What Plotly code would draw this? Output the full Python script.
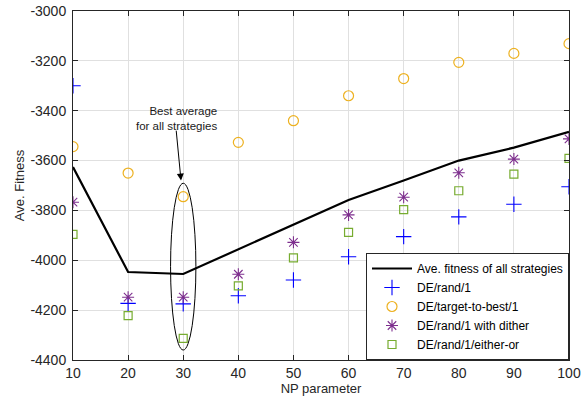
import plotly.graph_objects as go

np_param = [10, 20, 30, 40, 50, 60, 70, 80, 90, 100]
avg_all = [-3626, -4047, -4055, -3955, -3858, -3758, -3680, -3600, -3548, -3485]
de_rand1 = [-3300, -4173, -4175, -4142, -4079, -3986, -3905, -3826, -3775, -3705]
de_ttb1 = [-3544, -3650, -3745, -3527, -3440, -3340, -3271, -3206, -3170, -3131]
de_dither = [-3767, -4148, -4148, -4056, -3928, -3818, -3747, -3649, -3594, -3513]
de_either = [-3896, -4222, -4313, -4103, -3990, -3888, -3797, -3721, -3654, -3591]

y_tickvals = [-4400, -4200, -4000, -3800, -3600, -3400, -3200, -3000]
y_ticklabels = ["-4400", "-4200", "-4000", "-3800", "-3600", "-3400", "-3200", "-3000"]

FONT = "Liberation Sans, Arial, sans-serif"
fig = go.Figure()
fig.add_trace(go.Scatter(x=np_param, y=avg_all, mode="lines",
                         line=dict(color="black", width=2.2),
                         name="Ave. fitness of all strategies"))
fig.add_trace(go.Scatter(x=np_param, y=de_rand1, mode="markers",
                         marker=dict(symbol="cross-thin-open", size=11, color="#0000ff",
                                     line=dict(color="#0000ff", width=1.1)),
                         name="DE/rand/1"))
fig.add_trace(go.Scatter(x=np_param, y=de_ttb1, mode="markers",
                         marker=dict(symbol="circle-open", size=10, color="#EDB120",
                                     line=dict(color="#EDB120", width=1.2)),
                         name="DE/target-to-best/1"))
fig.add_trace(go.Scatter(x=np_param, y=de_dither, mode="markers",
                         marker=dict(symbol="asterisk-open", size=10, color="#7E2F8E",
                                     line=dict(color="#7E2F8E", width=1.1)),
                         name="DE/rand/1 with dither"))
fig.add_trace(go.Scatter(x=np_param, y=de_either, mode="markers",
                         marker=dict(symbol="square-open", size=8, color="#77AC30",
                                     line=dict(color="#77AC30", width=1.2)),
                         name="DE/rand/1/either-or"))

# ellipse around NP=30
fig.add_shape(type="circle", xref="x", yref="y", x0=27.7, x1=32.3, y0=-4360, y1=-3691,
              line=dict(color="black", width=1))
# arrow
fig.add_annotation(x=29.6, y=-3680, ax=28.7, ay=-3474, xref="x", yref="y", axref="x", ayref="y",
                   text="", showarrow=True, arrowhead=2, arrowsize=1.4, arrowwidth=1,
                   arrowcolor="black", standoff=0)
fig.add_annotation(x=36.45, y=-3430, xref="x", yref="y", text="Best average<br>for all strategies",
                   showarrow=False, xanchor="right", yanchor="middle", align="right",
                   font=dict(family=FONT, size=11.5, color="#1a1a1a"))

axis_common = dict(showline=True, linecolor="#262626", linewidth=1, mirror="ticks",
                   ticks="inside", ticklen=5, tickcolor="#262626", showgrid=True,
                   gridcolor="#e0e0e0", gridwidth=1, zeroline=False, automargin=False,
                   tickfont=dict(family=FONT, size=14, color="#262626"))
fig.update_xaxes(range=[10, 100], tickmode="linear", tick0=10, dtick=10,
                 title=dict(text="NP parameter", font=dict(family=FONT, size=13, color="#262626"), standoff=2),
                 **axis_common)
fig.update_yaxes(range=[-4400, -3000], tickmode="array", tickvals=y_tickvals, ticktext=y_ticklabels,
                 title=dict(text="Ave. Fitness", font=dict(family=FONT, size=13, color="#262626"), standoff=2),
                 ticklabelstandoff=3, **axis_common)

fig.update_layout(width=588, height=402, margin=dict(l=73, r=19, t=11, b=42, pad=0),
                  plot_bgcolor="white", paper_bgcolor="white",
                  legend=dict(x=1, y=0, xanchor="right", yanchor="bottom",
                              bgcolor="white", bordercolor="#262626", borderwidth=1,
                              font=dict(family=FONT, size=12, color="black"),
                              itemwidth=40, tracegroupgap=0),
                  showlegend=True)
fig.write_html("out.html", config={"displayModeBar": False},
               post_script="document.body.style.margin='0';document.body.style.padding='0';")
